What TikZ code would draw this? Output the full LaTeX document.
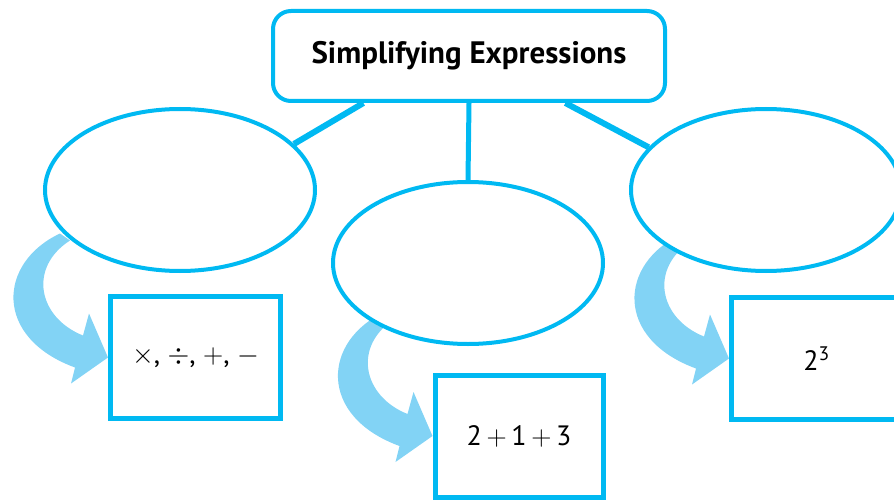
\RequirePackage{fix-cm}
\documentclass[tikz,border=0pt]{standalone}
\usepackage{fontspec}
\setmainfont{PT Sans}
\usepackage{tikz}
\usetikzlibrary{shapes.geometric, positioning, backgrounds}
\definecolor{mapcyan}{RGB}{0, 185, 242}
\definecolor{arrowblue}{RGB}{130, 211, 245}

\tikzset{
  titlebox/.style={draw=mapcyan, line width=4pt, rounded corners=18pt, fill=white,
                   minimum width=392pt, minimum height=90pt,
                   font=\fontsize{31}{36}\selectfont\bfseries},
  bubble/.style={ellipse, draw=mapcyan, line width=4pt, fill=white,
                 minimum width=270pt, minimum height=162pt},
  answerbox/.style={draw=mapcyan, line width=5pt, fill=white,
                    minimum width=170pt, minimum height=122pt,
                    font=\fontsize{28}{34}\selectfont},
  link/.style={draw=mapcyan, line width=6pt},
  bendfill/.style={fill=arrowblue}
}

% curved arrow ending at the west side of a box
\newcommand{\bendarrow}[1]{%
  \fill[bendfill, shift={(#1.west)}] (-48,-124)
    .. controls (-110,-95) and (-115,-20) .. (-33,10)
    -- (-37,26) -- (0,0) -- (-19,-44) -- (-25,-22)
    .. controls (-70,-40) and (-80,-90) .. (-38,-117) -- cycle;}

\begin{document}
\begin{tikzpicture}[x=1pt, y=-1pt]

\useasboundingbox (0,0) rectangle (894,500);
\clip (0,0) rectangle (894,500);

% Title
\node[titlebox] (title) at (469,56) {Simplifying Expressions};

% Answer boxes
\node[answerbox] (lbox) at (195.5,357.5) {$\times$, $\div$, $+$, $-$};
\node[answerbox, minimum width=168pt] (mbox) at (519,436) {2\,$+$\,1\,$+$\,3};
\node[answerbox] (rbox) at (816.5,358.5) {2\textsuperscript{3}};

% Curved arrows
\begin{pgfonlayer}{background}
\bendarrow{lbox}
\bendarrow{mbox}
\bendarrow{rbox}
\end{pgfonlayer}

% Empty bubbles
\node[bubble] (lell) at (180,190) {};
\node[bubble] (mell) at (468,263) {};
\node[bubble] (rell) at (766,190) {};

% Links from the title
\draw[link] (title.204) -- (lell.22);
\draw[link, line width=5pt] (title.south) -- (mell.north);
\draw[link] (title.334) -- (rell.160);

\end{tikzpicture}
\end{document}
